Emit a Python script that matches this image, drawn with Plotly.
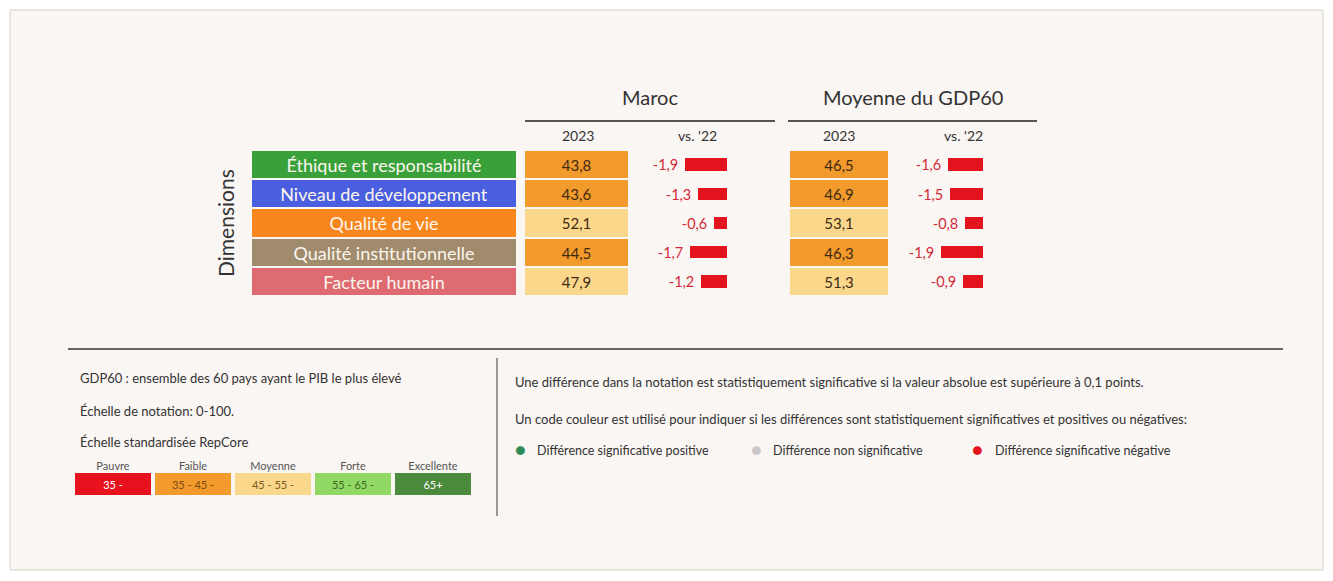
import plotly.graph_objects as go

W, H = 1333, 581
OFF = 8  # page body margin
FW, FH = W - 2 * OFF, H - 2 * OFF

# ---------------- data ----------------
dimensions = ["Éthique et responsabilité", "Niveau de développement", "Qualité de vie",
              "Qualité institutionnelle", "Facteur humain"]
dim_colors = ["#3aa13a", "#4a5fe0", "#f8861c", "#a08b6c", "#de6b72"]

maroc_2023 = [43.8, 43.6, 52.1, 44.5, 47.9]
maroc_diff = [-1.9, -1.3, -0.6, -1.7, -1.2]
gdp_2023 = [46.5, 46.9, 53.1, 46.3, 51.3]
gdp_diff = [-1.6, -1.5, -0.8, -1.9, -0.9]
maroc_level = ["Faible", "Faible", "Moyenne", "Faible", "Moyenne"]
gdp_level = ["Faible", "Faible", "Moyenne", "Faible", "Moyenne"]

scale_labels = ["Pauvre", "Faible", "Moyenne", "Forte", "Excellente"]
scale_ranges = ["35 -", "35 - 45 -", "45 - 55 -", "55 - 65 -", "65+"]
scale_colors = ["#e8111e", "#f39a2c", "#fbd78c", "#92d865", "#4b8a3a"]
scale_text_colors = ["#ffffff", "#7a4a10", "#7a5a20", "#3a6a20", "#ffffff"]
level_color = dict(zip(scale_labels, scale_colors))

FONT = "Lato, 'Open Sans', sans-serif"


def fx(px):
    return (px - OFF) / FW


def fy(py):
    return 1 - (py - OFF) / FH


def fr(v):
    return f"{v:.1f}".replace(".", ",")


fig = go.Figure()

# label boxes
fig.add_trace(go.Bar(
    y=dimensions, x=[1] * len(dimensions), orientation="h", width=0.93,
    marker=dict(color=dim_colors, line=dict(width=0)),
    text=dimensions, textposition="inside", insidetextanchor="middle", textangle=0,
    textfont=dict(family=FONT, size=18, color="#fbf6ee"), constraintext="none",
    xaxis="x", yaxis="y", hoverinfo="skip", showlegend=False))

# Maroc cells
fig.add_trace(go.Bar(
    y=dimensions, x=[1] * len(dimensions), orientation="h", width=0.93,
    marker=dict(color=[level_color[l] for l in maroc_level], line=dict(width=0)),
    text=[fr(v) for v in maroc_2023], textposition="inside", insidetextanchor="middle", textangle=0,
    textfont=dict(family=FONT, size=15, color="#3f2a12"), constraintext="none",
    xaxis="x2", yaxis="y", hoverinfo="skip", showlegend=False))

# Maroc diff bars
fig.add_trace(go.Bar(
    y=dimensions, x=maroc_diff, orientation="h", width=0.42,
    marker=dict(color="#e3141e", line=dict(width=0)),
    text=[fr(v) + " " for v in maroc_diff], textposition="outside", textangle=0,
    textfont=dict(family=FONT, size=14.5, color="#d42a3a"), constraintext="none", cliponaxis=False,
    xaxis="x3", yaxis="y", hoverinfo="skip", showlegend=False))

# GDP60 cells
fig.add_trace(go.Bar(
    y=dimensions, x=[1] * len(dimensions), orientation="h", width=0.93,
    marker=dict(color=[level_color[l] for l in gdp_level], line=dict(width=0)),
    text=[fr(v) for v in gdp_2023], textposition="inside", insidetextanchor="middle", textangle=0,
    textfont=dict(family=FONT, size=15, color="#3f2a12"), constraintext="none",
    xaxis="x4", yaxis="y", hoverinfo="skip", showlegend=False))

# GDP60 diff bars
fig.add_trace(go.Bar(
    y=dimensions, x=gdp_diff, orientation="h", width=0.42,
    marker=dict(color="#e3141e", line=dict(width=0)),
    text=[fr(v) + " " for v in gdp_diff], textposition="outside", textangle=0,
    textfont=dict(family=FONT, size=14.5, color="#d42a3a"), constraintext="none", cliponaxis=False,
    xaxis="x5", yaxis="y", hoverinfo="skip", showlegend=False))

# scale legend boxes
fig.add_trace(go.Bar(
    x=scale_labels, y=[1] * len(scale_labels), width=0.94,
    marker=dict(color=scale_colors, line=dict(width=0)),
    text=scale_ranges, textposition="inside", insidetextanchor="middle", textangle=0,
    textfont=dict(family=FONT, size=11, color=scale_text_colors), constraintext="none",
    xaxis="x6", yaxis="y2", hoverinfo="skip", showlegend=False))

hidden = dict(visible=False, fixedrange=True)
diff_range = [-87 / 22, 0]

fig.update_layout(
    width=FW, height=FH,
    margin=dict(l=0, r=0, t=0, b=0),
    paper_bgcolor="#ffffff", plot_bgcolor="rgba(0,0,0,0)",
    font=dict(family=FONT, color="#333333"),
    bargap=0,
    yaxis=dict(domain=[fy(296), fy(150)], type="category", categoryarray=dimensions,
               autorange="reversed", visible=False, fixedrange=True),
    xaxis=dict(domain=[fx(252), fx(516)], range=[0, 1], anchor="y", **hidden),
    xaxis2=dict(domain=[fx(525), fx(628)], range=[0, 1], anchor="y", **hidden),
    xaxis3=dict(domain=[fx(640), fx(727)], range=diff_range, anchor="y", **hidden),
    xaxis4=dict(domain=[fx(790), fx(888)], range=[0, 1], anchor="y", **hidden),
    xaxis5=dict(domain=[fx(896), fx(983)], range=diff_range, anchor="y", **hidden),
    xaxis6=dict(domain=[fx(73), fx(473)], type="category", categoryarray=scale_labels,
                anchor="y2", side="top", showgrid=False, zeroline=False, showline=False,
                ticks="", ticklabelstandoff=0,
                tickfont=dict(family=FONT, size=11, color="#555555"), fixedrange=True),
    yaxis2=dict(domain=[fy(495), fy(473)], range=[0, 1], anchor="x6", **hidden),
)

shapes = [
    # panel
    dict(type="rect", xref="paper", yref="paper", x0=fx(10), x1=fx(1323), y0=fy(570), y1=fy(10),
         fillcolor="#faf6f3", line=dict(color="#d8d0c6", width=1), layer="below"),
    # header lines
    dict(type="line", xref="paper", yref="paper", x0=fx(525), x1=fx(775), y0=fy(121), y1=fy(121),
         line=dict(color="#555555", width=2)),
    dict(type="line", xref="paper", yref="paper", x0=fx(788), x1=fx(1037), y0=fy(121), y1=fy(121),
         line=dict(color="#555555", width=2)),
    # separator lines
    dict(type="line", xref="paper", yref="paper", x0=fx(68), x1=fx(1283), y0=fy(349), y1=fy(349),
         line=dict(color="#666666", width=2)),
    dict(type="line", xref="paper", yref="paper", x0=fx(497), x1=fx(497), y0=fy(358), y1=fy(516),
         line=dict(color="#777777", width=1.5)),
]
fig.update_layout(shapes=shapes)


def ann(text, x, y, size=11, color="#333333", xanchor="left", **kw):
    fig.add_annotation(text=text, x=fx(x), y=fy(y), xref="paper", yref="paper",
                       showarrow=False, xanchor=xanchor, yanchor="middle",
                       font=dict(family=FONT, size=size, color=color), **kw)


ann("Maroc", 650, 97, size=20, xanchor="center")
ann("Moyenne du GDP60", 913, 97, size=20, xanchor="center")
ann("2023", 578, 135, size=14, xanchor="center")
ann("vs. '22", 697, 135, size=14, xanchor="center")
ann("2023", 839, 135, size=14, xanchor="center")
ann("vs. '22", 963, 135, size=14, xanchor="center")
ann("Dimensions", 226, 223, size=21, xanchor="center", textangle=-90)

ann("GDP60 : ensemble des 60 pays ayant le PIB le plus élevé", 78, 378, size=13)
ann("Échelle de notation: 0-100.", 78, 411, size=13)
ann("Échelle standardisée RepCore", 78, 442, size=13)

ann("Une différence dans la notation est statistiquement significative si la valeur absolue est supérieure à 0,1 points.",
    513, 382, size=13)
ann("Un code couleur est utilisé pour indiquer si les différences sont statistiquement significatives et positives ou négatives:",
    513, 419, size=13)

ann("●", 520, 449, size=18, color="#2e8b57", xanchor="center")
ann("Différence significative positive", 535, 450, size=12.5)
ann("●", 757, 449, size=18, color="#c9c9c9", xanchor="center")
ann("Différence non significative", 771, 450, size=12.5)
ann("●", 977, 449, size=18, color="#e3141e", xanchor="center")
ann("Différence significative négative", 993, 450, size=12.5)

fig.write_html("out.html")
